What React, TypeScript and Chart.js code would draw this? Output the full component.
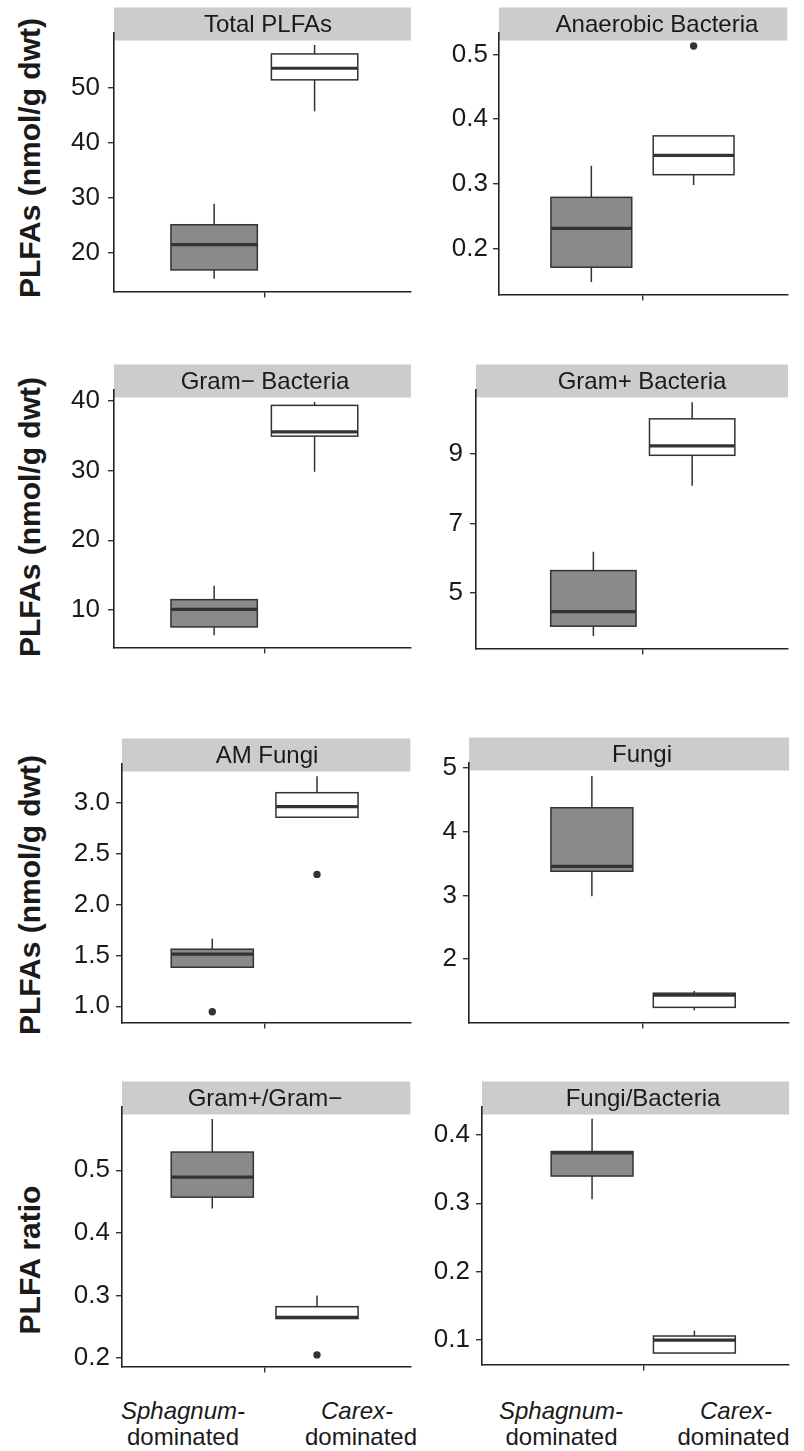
import React, { useEffect, useRef } from "react";
import { Chart, registerables } from "chart.js";

Chart.register(...registerables);

// ---------- data ----------
const groups = ["Sphagnum-dominated", "Carex-dominated"];
const panelTitles = [
  "Total PLFAs",
  "Anaerobic Bacteria",
  "Gram\u2212 Bacteria",
  "Gram+ Bacteria",
  "AM Fungi",
  "Fungi",
  "Gram+/Gram\u2212",
  "Fungi/Bacteria",
];
const yTitles = ["PLFAs (nmol/g dwt)", "PLFAs (nmol/g dwt)", "PLFAs (nmol/g dwt)", "PLFA ratio"];

// five-number summaries: [lower whisker, Q1, median, Q3, upper whisker]
const totalSphagnum = [15.3, 16.9, 21.5, 25.1, 28.9];
const totalCarex = [45.7, 51.4, 53.5, 56.1, 57.7];
const anaerobicSphagnum = [0.148, 0.171, 0.231, 0.279, 0.328];
const anaerobicCarex = [0.298, 0.314, 0.344, 0.374, 0.374];
const gramNegSphagnum = [6.4, 7.6, 10.1, 11.5, 13.5];
const gramNegCarex = [29.8, 34.9, 35.5, 39.3, 39.8];
const gramPosSphagnum = [3.76, 4.04, 4.46, 5.64, 6.18];
const gramPosCarex = [8.08, 8.96, 9.23, 10.01, 10.49];
const amFungiSphagnum = [1.383, 1.383, 1.512, 1.56, 1.664];
const amFungiCarex = [2.857, 2.857, 2.962, 3.098, 3.26];
const fungiSphagnum = [2.985, 3.378, 3.454, 4.374, 4.873];
const fungiCarex = [1.2, 1.244, 1.436, 1.466, 1.5];
const gpgnSphagnum = [0.439, 0.457, 0.489, 0.529, 0.582];
const gpgnCarex = [0.263, 0.263, 0.265, 0.282, 0.3];
const fbSphagnum = [0.306, 0.34, 0.374, 0.376, 0.424];
const fbCarex = [0.08, 0.08, 0.099, 0.105, 0.113];

// outliers per group [Sphagnum, Carex]
const noOutliers = [[], []];
const anaerobicOutliers = [[], [0.513]];
const amFungiOutliers = [[0.946], [2.295]];
const gpgnOutliers = [[], [0.205]];

// y tick values
const totalTicks = [20, 30, 40, 50];
const anaerobicTicks = [0.2, 0.3, 0.4, 0.5];
const gramNegTicks = [10, 20, 30, 40];
const gramPosTicks = [5, 7, 9];
const amFungiTicks = [1.0, 1.5, 2.0, 2.5, 3.0];
const fungiTicks = [2, 3, 4, 5];
const gpgnTicks = [0.2, 0.3, 0.4, 0.5];
const fbTicks = [0.1, 0.2, 0.3, 0.4];

// y axis ranges
const totalRange = [13.0, 59.9];
const anaerobicRange = [0.129, 0.533];
const gramNegRange = [4.67, 41.5];
const gramPosRange = [3.4, 10.84];
const amFungiRange = [0.841, 3.38];
const fungiRange = [1.008, 5.076];
const gpgnRange = [0.1866, 0.601];
const fbRange = [0.0633, 0.4414];

// ---------- layout / style ----------
const FONT = '"Liberation Sans", Arial, Helvetica, sans-serif';
const INK = "#1a1a1a";
const LINE = "#333333";
const AXIS = "#222222";
const FILLS = ["#8a8a8a", "#ffffff"];
const STRIP_FILL = "#cccccc";

type Panel = {
  title: string;
  stats: number[][];
  outliers: number[][];
  ticks: number[];
  range: number[];
  decimals: number;
  col: number;
  left: number;
  top: number;
  bottom: number;
  right: number;
  xMin: number;
  xMax: number;
  boxW: number;
  labelPad: number;
  titleX: number;
};

const panels: Panel[] = [
  { title: panelTitles[0], stats: [totalSphagnum, totalCarex], outliers: noOutliers, ticks: totalTicks, range: totalRange, decimals: 0,
    col: 0, left: 114, top: 33, bottom: 303, right: 411, xMin: 0.003, xMax: 2.96, boxW: 0.86, labelPad: 8, titleX: 268 },
  { title: panelTitles[1], stats: [anaerobicSphagnum, anaerobicCarex], outliers: anaerobicOutliers, ticks: anaerobicTicks, range: anaerobicRange, decimals: 1,
    col: 1, left: 499, top: 33, bottom: 303, right: 788, xMin: 0.097, xMax: 2.916, boxW: 0.79, labelPad: 5, titleX: 657 },
  { title: panelTitles[2], stats: [gramNegSphagnum, gramNegCarex], outliers: noOutliers, ticks: gramNegTicks, range: gramNegRange, decimals: 0,
    col: 0, left: 114, top: 390, bottom: 659, right: 411, xMin: 0.003, xMax: 2.96, boxW: 0.86, labelPad: 8, titleX: 265 },
  { title: panelTitles[3], stats: [gramPosSphagnum, gramPosCarex], outliers: noOutliers, ticks: gramPosTicks, range: gramPosRange, decimals: 0,
    col: 1, left: 476, top: 390, bottom: 659, right: 788, xMin: -0.188, xMax: 2.97, boxW: 0.864, labelPad: 7, titleX: 642 },
  { title: panelTitles[4], stats: [amFungiSphagnum, amFungiCarex], outliers: amFungiOutliers, ticks: amFungiTicks, range: amFungiRange, decimals: 1,
    col: 0, left: 122, top: 764, bottom: 1032, right: 411, xMin: 0.138, xMax: 2.891, boxW: 0.784, labelPad: 6, titleX: 267 },
  { title: panelTitles[5], stats: [fungiSphagnum, fungiCarex], outliers: noOutliers, ticks: fungiTicks, range: fungiRange, decimals: 0,
    col: 1, left: 469, top: 763, bottom: 1032, right: 789, xMin: -0.2, xMax: 2.925, boxW: 0.8, labelPad: 6, titleX: 642 },
  { title: panelTitles[6], stats: [gpgnSphagnum, gpgnCarex], outliers: gpgnOutliers, ticks: gpgnTicks, range: gpgnRange, decimals: 1,
    col: 0, left: 122, top: 1107, bottom: 1376, right: 411, xMin: 0.138, xMax: 2.891, boxW: 0.784, labelPad: 6, titleX: 265 },
  { title: panelTitles[7], stats: [fbSphagnum, fbCarex], outliers: noOutliers, ticks: fbTicks, range: fbRange, decimals: 1,
    col: 1, left: 482, top: 1107, bottom: 1374, right: 789, xMin: -0.076, xMax: 2.925, boxW: 0.8, labelPad: 6, titleX: 643 },
];

const PAD_TOP = 43;
const X_AXIS_H = 12;
const STRIP_H = 33;
const STRIP_OVERLAP = 7.5;

if (typeof document !== "undefined") {
  document.body.style.margin = "0";
}

function BoxPanel({ p }: { p: Panel }) {
  const ref = useRef<HTMLCanvasElement>(null);
  const canvasLeft = p.col === 0 ? 50 : 420;
  const canvasTop = p.top - PAD_TOP;
  const width = p.right + 3 - canvasLeft;
  const height = p.bottom - p.top + PAD_TOP + X_AXIS_H;

  useEffect(() => {
    if (!ref.current) return;
    const boxPlugin = {
      id: "boxplotDraw",
      beforeDraw(chart: any) {
        const { ctx, chartArea } = chart;
        const xs = chart.scales.x;
        const sb = chartArea.top + STRIP_OVERLAP;
        ctx.save();
        ctx.fillStyle = STRIP_FILL;
        ctx.fillRect(chartArea.left, sb - STRIP_H, chartArea.right - chartArea.left, STRIP_H);
        ctx.fillStyle = INK;
        ctx.font = `24px ${FONT}`;
        ctx.textAlign = "center";
        ctx.textBaseline = "alphabetic";
        ctx.fillText(p.title, p.titleX - canvasLeft, sb - 8.5);
        ctx.restore();
        void xs;
      },
      afterDatasetsDraw(chart: any) {
        const { ctx } = chart;
        const xs = chart.scales.x;
        const ys = chart.scales.y;
        ctx.save();
        p.stats.forEach((s, i) => {
          const xc = xs.getPixelForValue(i + 1);
          const x0 = xs.getPixelForValue(i + 1 - p.boxW / 2);
          const x1 = xs.getPixelForValue(i + 1 + p.boxW / 2);
          const yLo = ys.getPixelForValue(s[0]);
          const yQ1 = ys.getPixelForValue(s[1]);
          const yMed = ys.getPixelForValue(s[2]);
          const yQ3 = ys.getPixelForValue(s[3]);
          const yHi = ys.getPixelForValue(s[4]);
          ctx.strokeStyle = LINE;
          ctx.lineWidth = 1.5;
          ctx.beginPath();
          ctx.moveTo(xc, yQ3);
          ctx.lineTo(xc, yHi);
          ctx.moveTo(xc, yQ1);
          ctx.lineTo(xc, yLo);
          ctx.stroke();
          ctx.fillStyle = FILLS[i];
          ctx.fillRect(x0, yQ3, x1 - x0, yQ1 - yQ3);
          ctx.strokeRect(x0, yQ3, x1 - x0, yQ1 - yQ3);
          ctx.lineWidth = 3.2;
          ctx.beginPath();
          ctx.moveTo(x0, yMed);
          ctx.lineTo(x1, yMed);
          ctx.stroke();
        });
        ctx.restore();
      },
    };

    const outlierPoints: { x: number; y: number }[] = [];
    p.outliers.forEach((arr, i) => arr.forEach((v) => outlierPoints.push({ x: i + 1, y: v })));

    const gridOpts = {
      drawOnChartArea: false,
      drawTicks: true,
      tickLength: 6,
      color: LINE,
      lineWidth: 1.4,
    };
    const borderOpts = { display: true, color: AXIS, width: 1.6 };

    const chart = new Chart(ref.current, {
      type: "scatter",
      data: {
        datasets: [
          {
            label: "outliers",
            data: outlierPoints,
            pointRadius: 3.7,
            pointHoverRadius: 3.7,
            backgroundColor: LINE,
            borderWidth: 0,
          },
        ],
      },
      options: {
        animation: false,
        responsive: false,
        maintainAspectRatio: false,
        devicePixelRatio: 1,
        layout: { padding: { top: PAD_TOP, right: 3, bottom: 0, left: 0 } },
        plugins: {
          legend: { display: false },
          tooltip: { enabled: false },
          title: { display: false },
        },
        scales: {
          x: {
            type: "linear",
            min: p.xMin,
            max: p.xMax,
            afterFit: (s: any) => {
              s.height = X_AXIS_H;
            },
            afterBuildTicks: (s: any) => {
              s.ticks = [{ value: 1.5 }];
            },
            ticks: { display: false },
            grid: gridOpts,
            border: borderOpts,
          },
          y: {
            type: "linear",
            min: p.range[0],
            max: p.range[1],
            afterFit: (s: any) => {
              s.width = p.left - canvasLeft;
            },
            afterBuildTicks: (s: any) => {
              s.ticks = p.ticks.map((v) => ({ value: v }));
            },
            ticks: {
              font: { family: FONT, size: 26 },
              color: INK,
              padding: p.labelPad,
              callback: (v: any) => Number(v).toFixed(p.decimals),
            },
            grid: gridOpts,
            border: borderOpts,
          },
        },
      } as any,
      plugins: [boxPlugin],
    });
    return () => chart.destroy();
  }, []);

  return (
    <canvas
      ref={ref}
      width={width}
      height={height}
      style={{ position: "absolute", left: canvasLeft, top: canvasTop, width, height }}
    />
  );
}

const yTitleCenters = [158, 517, 895, 1260];

function XLabel({ text, cx, baseline, italic }: { text: string; cx: number; baseline: number; italic: boolean }) {
  return (
    <div
      style={{
        position: "absolute",
        left: cx,
        top: baseline - 20.3,
        transform: "translateX(-50%)",
        fontFamily: FONT,
        fontSize: 24,
        lineHeight: "24px",
        fontStyle: italic ? "italic" : "normal",
        color: INK,
        whiteSpace: "nowrap",
      }}
    >
      {text}
    </div>
  );
}

export default function App() {
  const [sph, car] = groups.map((g) => g.split("-"));
  return (
    <div style={{ position: "relative", width: 804, height: 1451, background: "#ffffff", overflow: "hidden" }}>
      {panels.map((p, i) => (
        <BoxPanel key={i} p={p} />
      ))}
      {yTitles.map((t, i) => (
        <div
          key={i}
          style={{
            position: "absolute",
            left: 29.5,
            top: yTitleCenters[i],
            transform: "translate(-50%, -50%) rotate(-90deg)",
            fontFamily: FONT,
            fontWeight: "bold",
            fontSize: 30,
            color: INK,
            whiteSpace: "nowrap",
          }}
        >
          {t}
        </div>
      ))}
      <XLabel text={sph[0] + "-"} cx={183} baseline={1419} italic={true} />
      <XLabel text={sph[1]} cx={183} baseline={1445} italic={false} />
      <XLabel text={car[0] + "-"} cx={357} baseline={1419} italic={true} />
      <XLabel text={car[1]} cx={361} baseline={1445} italic={false} />
      <XLabel text={sph[0] + "-"} cx={561} baseline={1419} italic={true} />
      <XLabel text={sph[1]} cx={561.5} baseline={1445} italic={false} />
      <XLabel text={car[0] + "-"} cx={736} baseline={1419} italic={true} />
      <XLabel text={car[1]} cx={733.5} baseline={1445} italic={false} />
    </div>
  );
}
